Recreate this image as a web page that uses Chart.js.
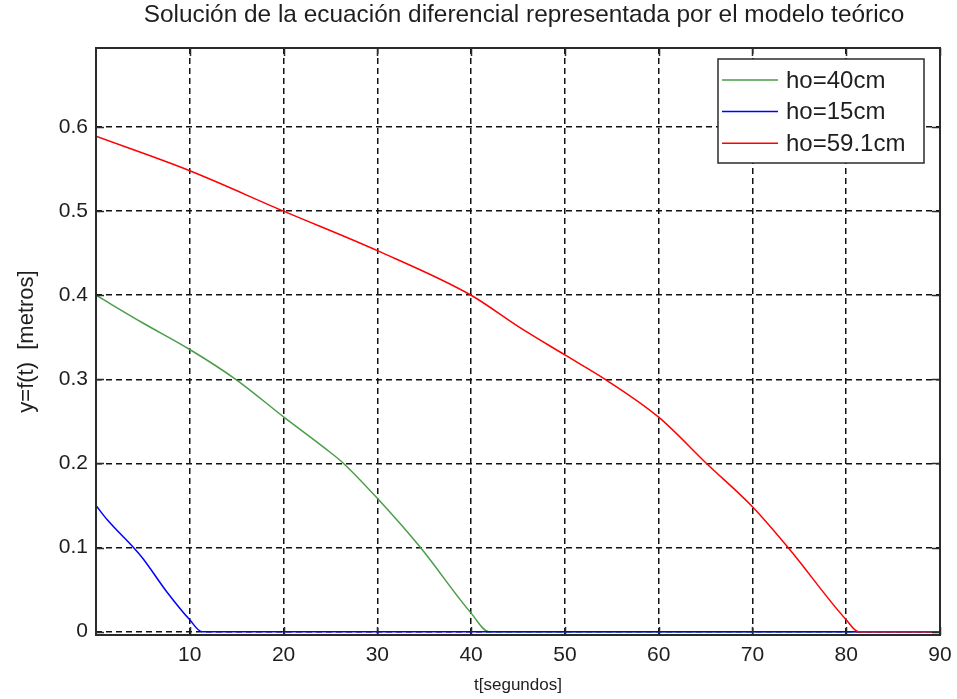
<!DOCTYPE html>
<html>
<head>
<meta charset="utf-8">
<script src="https://cdn.jsdelivr.net/npm/chart.js@4.4.1/dist/chart.umd.min.js"></script>
<style>
  html, body { margin: 0; padding: 0; background: #fff; }
  canvas { display: block; }
</style>
</head>
<body>
<canvas id="grafica" width="957" height="699"></canvas>
<script>
// valores (t en segundos, altura en metros)
const tiempo40 = [0, 5, 10, 14.9, 20, 25, 26.4, 30, 34.6, 40, 41.9, 90];
const altura40 = [0.4, 0.367, 0.3355, 0.3, 0.2554, 0.213, 0.2, 0.1585, 0.1, 0.022, 0, 0];

const tiempo15 = [0, 1.2, 4.0, 5, 7.5, 10, 11.3, 90];
const altura15 = [0.15, 0.133, 0.1, 0.087, 0.048, 0.014, 0, 0];

const tiempo59 = [0, 10, 20, 30, 40, 45, 50, 54.3, 60, 65.1, 70, 73.8, 80, 81.3, 90];
const altura59 = [0.589, 0.548, 0.5, 0.453, 0.4, 0.363, 0.329, 0.3, 0.255, 0.2, 0.1485, 0.1, 0.014, 0, 0];

const ticksX = [10, 20, 30, 40, 50, 60, 70, 80, 90];
const ticksY = [0, 0.1, 0.2, 0.3, 0.4, 0.5, 0.6];
const etiquetasY = ['0', '0.1', '0.2', '0.3', '0.4', '0.5', '0.6'];

const titulo = 'Solución de la ecuación diferencial representada por el modelo teórico';

function puntos(xs, ys) {
    return xs.map((x, i) => ({ x: x, y: ys[i] }));
}

const fuente = 'Liberation Sans';

// título centrado sobre los ejes, como en matlab
const tituloEjes = {
    id: 'tituloEjes',
    afterDraw(chart) {
        const { ctx, chartArea: a } = chart;
        ctx.save();
        ctx.font = '24.4px "' + fuente + '"';
        ctx.fillStyle = '#1e1e1e';
        ctx.textAlign = 'center';
        ctx.textBaseline = 'middle';
        ctx.fillText(titulo, (a.left + a.right) / 2 + 6, 15);
        ctx.restore();
    }
};

// marco del eje con marcas hacia dentro (estilo matlab)
const marco = {
    id: 'marco',
    afterDatasetsDraw(chart) {
        const { ctx, chartArea: a, scales } = chart;
        ctx.save();
        ctx.strokeStyle = '#2b2b2b';
        ctx.lineWidth = 2;
        ctx.strokeRect(a.left, a.top, a.right - a.left, a.bottom - a.top);
        ctx.beginPath();
        ticksX.forEach(v => {
            const x = Math.round(scales.x.getPixelForValue(v)) + 0.5;
            ctx.moveTo(x, a.bottom); ctx.lineTo(x, a.bottom - 8);
            ctx.moveTo(x, a.top); ctx.lineTo(x, a.top + 8);
        });
        ticksY.forEach(v => {
            const y = Math.round(scales.y.getPixelForValue(v)) + 0.5;
            ctx.moveTo(a.left, y); ctx.lineTo(a.left + 8, y);
            ctx.moveTo(a.right, y); ctx.lineTo(a.right - 8, y);
        });
        ctx.lineWidth = 1.5;
        ctx.stroke();
        ctx.restore();
    }
};

// leyenda dentro del área, arriba a la derecha
const leyenda = {
    id: 'leyenda',
    afterDraw(chart) {
        const { ctx, chartArea: a } = chart;
        const w = 206, h = 104;
        const x0 = a.right - 16 - w, y0 = a.top + 11;
        ctx.save();
        ctx.fillStyle = '#fff';
        ctx.fillRect(x0, y0, w, h);
        ctx.strokeStyle = '#2b2b2b';
        ctx.lineWidth = 1.5;
        ctx.strokeRect(x0, y0, w, h);
        ctx.font = '24px "' + fuente + '"';
        ctx.textBaseline = 'middle';
        chart.data.datasets.forEach((ds, i) => {
            const y = y0 + 21 + i * 31.6;
            ctx.strokeStyle = ds.borderColor;
            ctx.lineWidth = 1.5;
            ctx.beginPath();
            ctx.moveTo(x0 + 4, y);
            ctx.lineTo(x0 + 60, y);
            ctx.stroke();
            ctx.fillStyle = '#1e1e1e';
            ctx.fillText(ds.label, x0 + 68, y + 1);
        });
        ctx.restore();
    }
};

new Chart(document.getElementById('grafica'), {
    type: 'line',
    data: {
        datasets: [
            { label: 'ho=40cm', data: puntos(tiempo40, altura40), borderColor: '#4a9d4a', order: 2 },
            { label: 'ho=15cm', data: puntos(tiempo15, altura15), borderColor: '#0000ff', order: 1 },
            { label: 'ho=59.1cm', data: puntos(tiempo59, altura59), borderColor: '#ff0000', order: 0 }
        ]
    },
    options: {
        responsive: false,
        animation: false,
        devicePixelRatio: 1,
        elements: {
            point: { radius: 0 },
            line: { borderWidth: 1.5, cubicInterpolationMode: 'monotone', fill: false }
        },
        layout: { padding: { left: 0, right: 17, top: 48, bottom: 0 } },
        plugins: {
            legend: { display: false },
            tooltip: { enabled: false },
            title: { display: false }
        },
        scales: {
            x: {
                type: 'linear',
                min: 0,
                max: 90,
                afterBuildTicks: s => { s.ticks = ticksX.map(v => ({ value: v })); },
                afterFit: s => { s.height = 64; s.paddingLeft = 0; s.paddingRight = 0; },
                ticks: {
                    color: '#1e1e1e',
                    padding: 8,
                    maxRotation: 0,
                    font: { family: fuente, size: 21 }
                },
                grid: { color: '#111', lineWidth: 1.5, drawTicks: false },
                border: { display: false, dash: [6, 4] },
                title: {
                    display: true,
                    text: 't[segundos]',
                    color: '#1e1e1e',
                    font: { family: fuente, size: 17, lineHeight: 1.2 },
                    padding: { top: 0, bottom: 3 }
                }
            },
            y: {
                min: -0.004,
                max: 0.694,
                afterBuildTicks: s => { s.ticks = ticksY.map(v => ({ value: v })); },
                afterFit: s => { s.width = 96; },
                ticks: {
                    color: '#1e1e1e',
                    padding: 8,
                    font: { family: fuente, size: 21 },
                    callback: (v, i) => etiquetasY[i]
                },
                grid: { color: '#111', lineWidth: 1.5, drawTicks: false },
                border: { display: false, dash: [6, 4] },
                title: {
                    display: true,
                    text: 'y=f(t)  [metros]',
                    color: '#1e1e1e',
                    font: { family: fuente, size: 22, lineHeight: 1.2 },
                    padding: { top: 14, bottom: 0 }
                }
            }
        }
    },
    plugins: [tituloEjes, marco, leyenda]
});
</script>
</body>
</html>
